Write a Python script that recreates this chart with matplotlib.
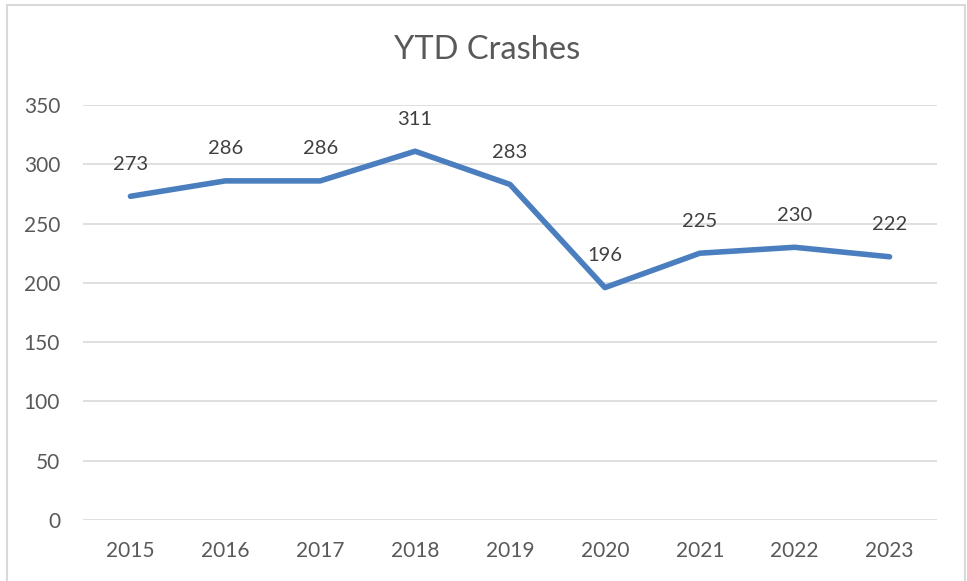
import matplotlib
matplotlib.use("Agg")
import matplotlib.pyplot as plt
from matplotlib.patches import Rectangle

years = ["2015", "2016", "2017", "2018", "2019", "2020", "2021", "2022", "2023"]
crashes = [273, 286, 286, 311, 283, 196, 225, 230, 222]
yticks = [0, 50, 100, 150, 200, 250, 300, 350]

plt.rcParams['font.family'] = ['Lato', 'DejaVu Sans']
W, H = 967, 581
fig = plt.figure(figsize=(W/100, H/100), dpi=100)
ax = fig.add_axes([83/W, 1-520/H, (937-83)/W, (520-105)/H])

x = list(range(len(years)))
ax.plot(x, crashes, color="#4A7EBF", lw=4.0, solid_capstyle="round", solid_joinstyle="round", zorder=3)
for xi, v in zip(x, crashes):
    ax.annotate(str(v), (xi, v), xytext=(0, 17), textcoords="offset points",
                ha="center", va="bottom", fontsize=14.5, color="#404040")

ax.set_xlim(-0.5, len(years)-0.5)
ax.set_ylim(0, 350)
ax.set_yticks(yticks)
ax.set_xticks(x)
ax.set_xticklabels(years)
ax.grid(axis="y", color="#D9D9D9", lw=1.2)
ax.set_axisbelow(True)
for s in ax.spines.values():
    s.set_visible(False)
ax.tick_params(length=0, labelsize=15, labelcolor="#595959")
ax.tick_params(axis="y", pad=16.5)
ax.tick_params(axis="x", pad=15)

fig.text(487/W, 1-50/H, "YTD Crashes", ha="center", va="center", fontsize=23.5, color="#595959")
fig.patches.append(Rectangle((7/W, -0.1), (965-7)/W, 1.1-5/H, transform=fig.transFigure,
                             fill=False, edgecolor="#D9D9D9", lw=1.5))
fig.savefig("out.png", dpi=100)
